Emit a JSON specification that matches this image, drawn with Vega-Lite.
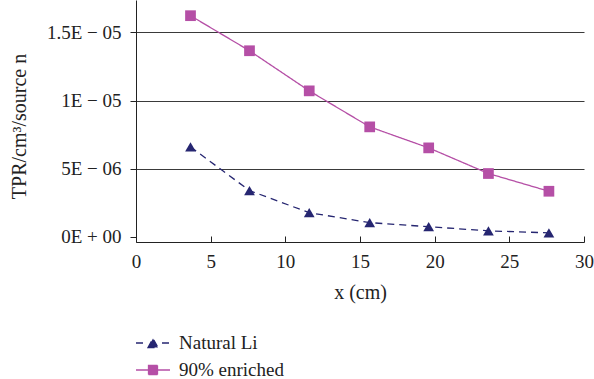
{
  "$schema": "https://vega.github.io/schema/vega-lite/v6.json",
  "width": 448,
  "height": 242,
  "autosize": "none",
  "padding": {"left": 136, "top": 0, "right": 10, "bottom": 137},
  "background": "white",
  "config": {
    "font": "Liberation Serif",
    "view": {"stroke": null},
    "axis": {"labelFont": "Liberation Serif", "titleFont": "Liberation Serif", "labelFontSize": 19, "titleFontSize": 20, "labelColor": "#222", "titleColor": "#222", "titleFontWeight": "normal", "domainColor": "#222", "tickColor": "#222"},
    "legend": {"labelFont": "Liberation Serif", "labelFontSize": 19, "labelColor": "#222"}
  },
  "data": {
    "values": [
      {"x": 3.65, "v": 6.6e-6, "series": "Natural Li"},
      {"x": 7.6, "v": 3.4e-6, "series": "Natural Li"},
      {"x": 11.6, "v": 1.78e-6, "series": "Natural Li"},
      {"x": 15.65, "v": 1.05e-6, "series": "Natural Li"},
      {"x": 19.6, "v": 0.75e-6, "series": "Natural Li"},
      {"x": 23.6, "v": 0.45e-6, "series": "Natural Li"},
      {"x": 27.65, "v": 0.3e-6, "series": "Natural Li"},
      {"x": 3.65, "v": 1.622e-5, "series": "90% enriched"},
      {"x": 7.6, "v": 1.365e-5, "series": "90% enriched"},
      {"x": 11.6, "v": 1.071e-5, "series": "90% enriched"},
      {"x": 15.65, "v": 8.07e-6, "series": "90% enriched"},
      {"x": 19.6, "v": 6.53e-6, "series": "90% enriched"},
      {"x": 23.6, "v": 4.65e-6, "series": "90% enriched"},
      {"x": 27.65, "v": 3.35e-6, "series": "90% enriched"}
    ]
  },
  "encoding": {
    "x": {
      "field": "x", "type": "quantitative",
      "scale": {"domain": [0, 30], "nice": false, "zero": false},
      "axis": {"title": "x (cm)", "values": [0, 5, 10, 15, 20, 25, 30], "grid": false, "tickSize": -6, "labelPadding": 16, "titlePadding": 11, "labelFlush": false}
    },
    "y": {
      "field": "v", "type": "quantitative",
      "scale": {"domain": [-3.7e-7, 1.737e-5], "nice": false, "zero": false},
      "axis": {
        "title": "TPR/cm³/source n",
        "values": [0, 5e-6, 1e-5, 1.5e-5],
        "labelExpr": "datum.value < 1e-9 ? '0E + 00' : datum.value < 7e-6 ? '5E − 06' : datum.value < 1.2e-5 ? '1E − 05' : '1.5E − 05'",
        "grid": true,
        "gridColor": "#3a3a3a",
        "gridOpacity": {"condition": {"test": "datum.value < 1e-9", "value": 0}, "value": 1},
        "tickSize": 6,
        "labelPadding": 9,
        "titleX": -107,
        "titleY": 126
      }
    },
    "color": {
      "field": "series", "type": "nominal",
      "scale": {"domain": ["Natural Li", "90% enriched"], "range": ["#262671", "#b54fa6"]},
      "legend": {
        "orient": "none", "legendX": 6, "legendY": 332, "title": null,
        "symbolSize": 400, "labelOffset": 15, "rowPadding": 6, "padding": 0,
        "encode": {
          "symbols": {
            "update": {
              "shape": {"signal": "datum.value == 'Natural Li' ? 'M-1.7,0H-0.9M0.9,0H1.7M-0.5,0.45L0,-0.45L0.5,0.45Z' : 'M-1.7,0H1.7M-0.45,-0.45H0.45V0.45H-0.45Z'"},
              "fill": {"signal": "datum.value == 'Natural Li' ? '#262671' : '#b54fa6'"},
              "stroke": {"signal": "datum.value == 'Natural Li' ? '#262671' : '#b54fa6'"},
              "strokeWidth": {"value": 1.3},
              "strokeDash": {"value": [1, 0]},
              "opacity": {"value": 1},
              "fillOpacity": {"value": 1}
            }
          }
        }
      }
    }
  },
  "layer": [
    {
      "mark": {"type": "line", "strokeWidth": 1.3},
      "encoding": {
        "strokeDash": {"field": "series", "type": "nominal", "scale": {"domain": ["Natural Li", "90% enriched"], "range": [[7, 5], [1, 0]]}, "legend": null}
      }
    },
    {
      "transform": [{"filter": "datum.series == 'Natural Li'"}],
      "mark": {"type": "point", "filled": true, "opacity": 1, "size": 115, "shape": "triangle-up"}
    },
    {
      "transform": [{"filter": "datum.series == '90% enriched'"}],
      "mark": {"type": "point", "filled": true, "opacity": 1, "size": 115, "shape": "square"}
    }
  ]
}
